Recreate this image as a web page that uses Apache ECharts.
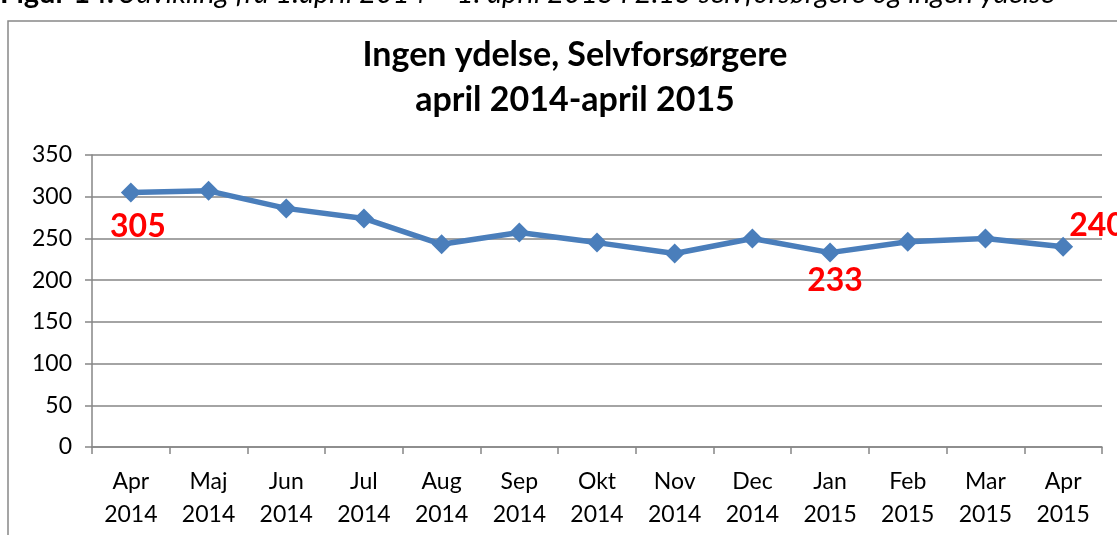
<!DOCTYPE html>
<html>
<head>
<meta charset="utf-8">
<script src="https://cdn.jsdelivr.net/npm/echarts@6/dist/echarts.min.js"></script>
<style>
  html, body { margin: 0; padding: 0; background: #fff; }
  #myChart { width: 1117px; height: 535px; }
</style>
</head>
<body>
<div id="myChart"></div>
<script>
  // months on the x axis (two lines: month / year)
  let months = ['Apr', 'Maj', 'Jun', 'Jul', 'Aug', 'Sep', 'Okt', 'Nov', 'Dec', 'Jan', 'Feb', 'Mar', 'Apr'];
  let years = ['2014', '2014', '2014', '2014', '2014', '2014', '2014', '2014', '2014', '2015', '2015', '2015', '2015'];
  // antal personer, ingen ydelse / selvforsørgere
  let values = [305, 307, 286, 274, 243, 257, 245, 232, 250, 233, 246, 250, 240];
  // which points get a red value label
  let labelled = [0, 9, 12];

  let myChart = echarts.init(document.getElementById('myChart'));
  let font = 'Lato, "Open Sans", sans-serif';

  let categories = months.map((m, i) => m + '\n' + years[i]);

  let labelPos = {
    0: { position: 'bottom', distance: 8, offset: [7, 0] },
    9: { position: 'bottom', distance: 2, offset: [5, 0] },
    12: { position: 'right', distance: 0, offset: [-4, -21] }
  };

  let seriesData = values.map((v, i) => {
    if (labelled.indexOf(i) < 0) return v;
    return {
      value: v,
      label: Object.assign({
        show: true,
        color: '#ff0000',
        fontFamily: font,
        fontWeight: 'bold',
        fontSize: 32
      }, labelPos[i])
    };
  });

  myChart.setOption({
    animation: false,
    textStyle: { fontFamily: font },
    title: {
      left: 570,
      top: 28,
      textAlign: 'center',
      text: 'Ingen ydelse, Selvforsørgere\napril 2014-april 2015',
      textStyle: {
        fontFamily: font,
        fontWeight: 'bold',
        fontSize: 34,
        lineHeight: 45,
        color: '#000'
      }
    },
    graphic: [
      {
        type: 'text',
        left: 0,
        top: -21,
        style: {
          text: '{b|Figur 14.} {i|Udvikling fra 1.april 2014 – 1. april 2015 i 2.15 selvforsørgere og ingen ydelse}',
          rich: {
            b: { fontFamily: font, fontSize: 29, fontWeight: 'bold', fill: '#000' },
            i: { fontFamily: font, fontSize: 29, fontStyle: 'italic', fill: '#000' }
          }
        }
      },
      {
        type: 'rect',
        shape: { x: 8, y: 21, width: 1200, height: 600 },
        style: { fill: 'none', stroke: '#888', lineWidth: 1.5 },
        silent: true
      }
    ],
    grid: {
      left: 92,
      right: 15,
      top: 155,
      bottom: 88
    },
    xAxis: {
      type: 'category',
      boundaryGap: true,
      data: categories,
      axisLine: { lineStyle: { color: '#868686', width: 1.5 } },
      axisTick: { show: true, length: 7, lineStyle: { color: '#868686', width: 1.5 } },
      axisLabel: {
        color: '#000',
        fontFamily: font,
        fontSize: 23,
        lineHeight: 33,
        margin: 18,
        interval: 0
      }
    },
    yAxis: {
      type: 'value',
      min: 0,
      max: 350,
      interval: 50,
      axisLine: { show: true, lineStyle: { color: '#868686', width: 1.5 } },
      axisTick: { show: true, length: 7, lineStyle: { color: '#868686', width: 1.5 } },
      axisLabel: { color: '#000', fontFamily: font, fontSize: 23, margin: 20 },
      splitLine: { lineStyle: { color: '#868686', width: 1.5 } }
    },
    series: [
      {
        name: 'Ingen ydelse, Selvforsørgere',
        type: 'line',
        symbol: 'diamond',
        symbolSize: 20,
        itemStyle: { color: '#4a7ebb' },
        lineStyle: { color: '#4a7ebb', width: 5.5 },
        label: { show: false },
        data: seriesData
      }
    ]
  });
</script>
</body>
</html>
